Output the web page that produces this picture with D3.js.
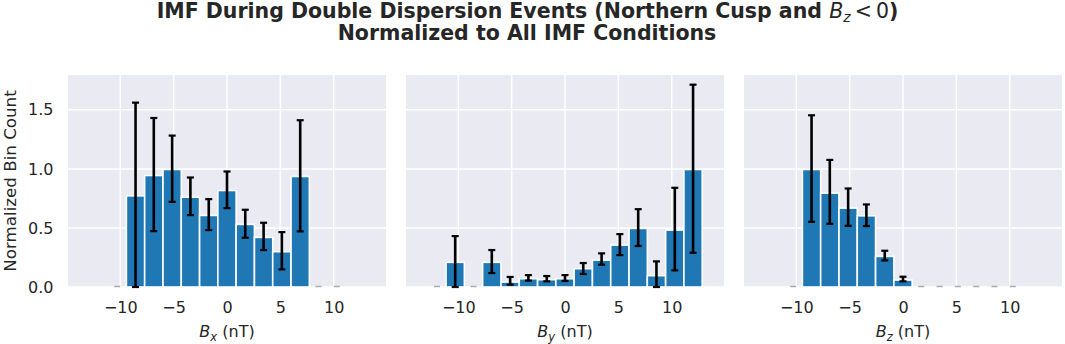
<!DOCTYPE html>
<html>
<head lang="en">
    <meta charset="UTF-8">
    <title></title>
    <script src="https://cdn.jsdelivr.net/npm/d3@7/dist/d3.min.js"></script>
    <style>
        body{margin:0;background:#fff;}
        text{font-family:"DejaVu Sans",sans-serif;fill:#262626;}
    </style>
</head>
<body>
<script>
    // bar positions (bin edges) shared by the three panels
    var binPos = [-12, -10.29, -8.57, -6.86, -5.14, -3.43, -1.71, 0, 1.71, 3.43, 5.14, 6.86, 8.57, 10.29, 12];
    var binWidth = 1.714;

    // normalized counts, null = no bar drawn
    var bxVal = [null, 0, 0.772, 0.944, 0.995, 0.761, 0.606, 0.817, 0.530, 0.420, 0.299, 0.936, 0, 0, null];
    var bxLo  = [null, 0, 0,     0.473, 0.721, 0.609, 0.482, 0.668, 0.417, 0.313, 0.149, 0.471, 0, 0, null];
    var bxHi  = [null, 0, 1.561, 1.431, 1.282, 0.927, 0.744, 0.978, 0.654, 0.544, 0.465, 1.412, 0, 0, null];

    var byVal = [0, 0.209, 0, 0.209, 0.042, 0.070, 0.062, 0.070, 0.155, 0.228, 0.355, 0.496, 0.096, 0.482, 0.995];
    var byLo  = [0, 0,     0, 0.118, 0.020, 0.054, 0.048, 0.051, 0.110, 0.189, 0.270, 0.347, 0,     0.141, 0.290];
    var byHi  = [0, 0.431, 0, 0.313, 0.085, 0.101, 0.093, 0.101, 0.203, 0.285, 0.448, 0.659, 0.217, 0.840, 1.713];

    var bzVal = [null, 0, 0.995, 0.795, 0.668, 0.603, 0.259, 0.059, 0, 0, 0, 0, 0, 0, null];
    var bzLo  = [null, 0, 0.552, 0.535, 0.518, 0.516, 0.225, 0.048, 0, 0, 0, 0, 0, 0, null];
    var bzHi  = [null, 0, 1.454, 1.076, 0.834, 0.699, 0.307, 0.087, 0, 0, 0, 0, 0, 0, null];

    var xTicks = [-10, -5, 0, 5, 10];
    var yTicks = [0, 0.5, 1.0, 1.5];

    var panels = [
        {sub:"x", val:bxVal, lo:bxLo, hi:bxHi, x0:68},
        {sub:"y", val:byVal, lo:byLo, hi:byHi, x0:406},
        {sub:"z", val:bzVal, lo:bzLo, hi:bzHi, x0:744}
    ];

    var _svg = d3.select("body")
            .append("svg")
            .attr("width",1065)
            .attr("height",344);

    var pw = 318, pTop = 75, pBottom = 287;
    var _yscale = d3.scaleLinear().domain([0,1.795]).range([pBottom,pTop]);

    // title
    var t1 = _svg.append("text")
            .attr("x",527.5).attr("y",17.5)
            .attr("text-anchor","middle")
            .style("font-size","20.5px").style("font-weight","bold");
    t1.append("tspan").text("IMF During Double Dispersion Events (Northern Cusp and ");
    t1.append("tspan").style("font-weight","normal").style("font-style","italic").text("B");
    t1.append("tspan").style("font-weight","normal").style("font-style","italic")
            .style("font-size","14px").attr("dy",4).text("z");
    t1.append("tspan").style("font-weight","normal").attr("dy",-4).text("\u2009<\u20090");
    t1.append("tspan").text(")");
    _svg.append("text")
            .attr("x",527).attr("y",39.5)
            .attr("text-anchor","middle")
            .style("font-size","20.5px").style("font-weight","bold")
            .text("Normalized to All IMF Conditions");

    panels.forEach(function(p,k){
        var _xscale = d3.scaleLinear().domain([-14.9,14.9]).range([p.x0,p.x0+pw]);
        var g = _svg.append("g");
        g.append("rect")
                .attr("x",p.x0).attr("y",pTop)
                .attr("width",pw).attr("height",pBottom-pTop)
                .attr("fill","#eaeaf2");
        // grid
        g.selectAll("line.gx").data(xTicks).enter().append("line")
                .attr("x1",function(d){return _xscale(d);})
                .attr("x2",function(d){return _xscale(d);})
                .attr("y1",pTop).attr("y2",pBottom)
                .attr("stroke","#fff").attr("stroke-width",1.5);
        g.selectAll("line.gy").data(yTicks).enter().append("line")
                .attr("y1",function(d){return _yscale(d);})
                .attr("y2",function(d){return _yscale(d);})
                .attr("x1",p.x0).attr("x2",p.x0+pw)
                .attr("stroke","#fff").attr("stroke-width",1.5);

        var idx = d3.range(binPos.length).filter(function(i){return p.val[i]!==null;});
        var bw = _xscale(binWidth)-_xscale(0);
        // zero-count dashes
        g.selectAll("line.z").data(idx.filter(function(i){return p.val[i]===0;})).enter().append("line")
                .attr("x1",function(i){return _xscale(binPos[i])-3;})
                .attr("x2",function(i){return _xscale(binPos[i])+3;})
                .attr("y1",pBottom-0.5).attr("y2",pBottom-0.5)
                .attr("stroke","#a9a9b2").attr("stroke-width",1.5);
        // bars
        g.selectAll("rect.b").data(idx.filter(function(i){return p.val[i]>0;})).enter().append("rect")
                .attr("x",function(i){return _xscale(binPos[i])-bw/2;})
                .attr("y",function(i){return _yscale(p.val[i]);})
                .attr("width",bw)
                .attr("height",function(i){return pBottom-_yscale(p.val[i]);})
                .attr("fill","#1f77b4")
                .attr("stroke","#fff").attr("stroke-width",1.6);
        // error bars
        var eb = g.selectAll("g.e").data(idx.filter(function(i){return p.hi[i]>0;})).enter().append("g");
        eb.append("line")
                .attr("x1",function(i){return _xscale(binPos[i]);})
                .attr("x2",function(i){return _xscale(binPos[i]);})
                .attr("y1",function(i){return _yscale(p.lo[i]);})
                .attr("y2",function(i){return _yscale(p.hi[i]);})
                .attr("stroke","#000").attr("stroke-width",2.6);
        [p.lo,p.hi].forEach(function(arr){
            eb.append("line")
                    .attr("x1",function(i){return _xscale(binPos[i])-3.5;})
                    .attr("x2",function(i){return _xscale(binPos[i])+3.5;})
                    .attr("y1",function(i){return _yscale(arr[i]);})
                    .attr("y2",function(i){return _yscale(arr[i]);})
                    .attr("stroke","#000").attr("stroke-width",2.2);
        });

        // x axis
        var _xaxis = d3.axisBottom(_xscale).tickValues(xTicks).tickSize(0).tickPadding(0)
                .tickFormat(function(d){return d<0 ? "\u2212"+(-d) : d;});
        var gx = g.append("g").attr("transform","translate(0,"+(pBottom+15)+")").call(_xaxis);
        gx.select(".domain").remove();
        gx.selectAll("text").attr("dy","0.71em").style("font-size","16px").attr("fill","#262626")
                .style("font-family","DejaVu Sans");

        var xl = g.append("text")
                .attr("x",p.x0+pw/2).attr("y",337)
                .attr("text-anchor","middle")
                .style("font-size","16px");
        xl.append("tspan").style("font-style","italic").text("B");
        xl.append("tspan").style("font-style","italic").style("font-size","11.5px").attr("dy",4).text(p.sub);
        xl.append("tspan").attr("dy",-4).text(" (nT)");

        if(k===0){
            var _yaxis = d3.axisLeft(_yscale).tickValues(yTicks).tickSize(0).tickPadding(14.5)
                    .tickFormat(d3.format(".1f"));
            var gy = g.append("g").attr("transform","translate("+p.x0+",0)").call(_yaxis);
            gy.select(".domain").remove();
            gy.selectAll("text").style("font-size","16px").attr("fill","#262626")
                    .style("font-family","DejaVu Sans");
            g.append("text")
                    .attr("transform","translate(16,"+((pTop+pBottom)/2)+") rotate(-90)")
                    .attr("text-anchor","middle")
                    .style("font-size","16.7px")
                    .text("Normalized Bin Count");
        }
    });
</script>
</body>
</html>
